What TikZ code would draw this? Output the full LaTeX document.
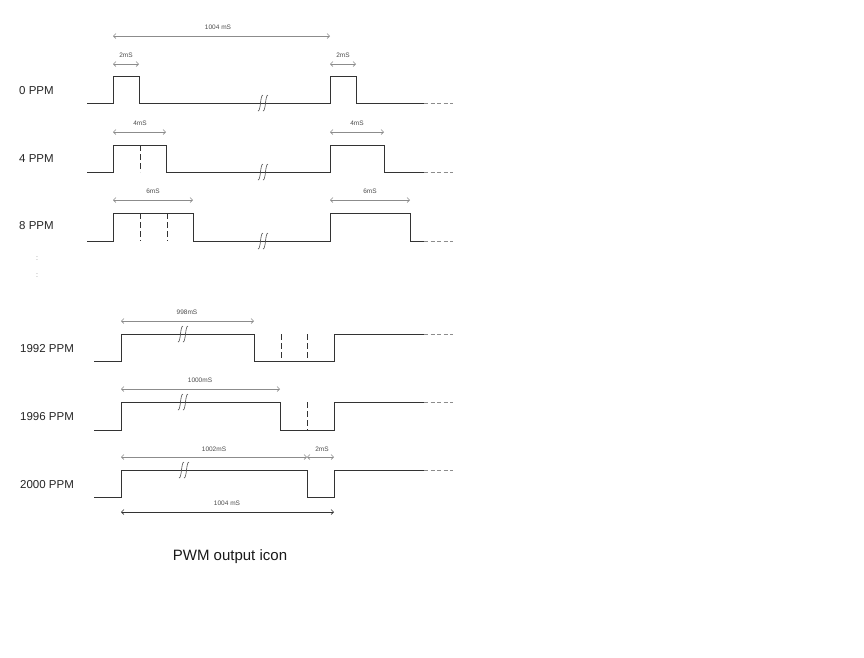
\documentclass[tikz,border=0pt]{standalone}
\usepackage{fontspec}
\setmainfont{Liberation Sans}
\usetikzlibrary{arrows.meta}
\newcommand\brksym[2]{%
  \draw[brkst] (#1-5,#2+8) .. controls (#1-2,#2+8) and (#1-3,#2-8) .. (#1,#2-8);
  \draw[brkst] (#1,#2+8) .. controls (#1+3,#2+8) and (#1+2,#2-8) .. (#1+5,#2-8);}
\begin{document}
\begin{tikzpicture}[x=1pt,y=-1pt,
  wave/.style={draw=black!80, line width=0.9pt, line join=miter},
  tail/.style={draw=black!45, line width=0.9pt, dash pattern=on 4pt off 2.5pt},
  dim/.style={draw=black!45, line width=0.6pt, {Straight Barb[length=2.5pt,width=5pt]}-{Straight Barb[length=2.5pt,width=5pt]}},
  dimdark/.style={dim, draw=black!80},
  dimlbl/.style={font=\fontsize{6.5}{7}\selectfont, text=black!70, inner sep=0.5pt},
  rowlbl/.style={font=\fontsize{11.5}{13}\selectfont, text=black!85, anchor=west, inner sep=0pt},
  mid/.style={draw=black!80, line width=0.8pt, dash pattern=on 6pt off 3pt},
  brkst/.style={draw=black!70, line width=0.6pt},
  dotlbl/.style={font=\fontsize{7}{8}\selectfont, text=black!50, inner sep=0pt}]
\useasboundingbox (0,0) rectangle (864,657);
\fill[white] (0,0) rectangle (864,657);

% ---------- row labels
\node[rowlbl] (l0) at (19,91) {0 PPM};
\node[rowlbl] (l4) at (19,159) {4 PPM};
\node[rowlbl] (l8) at (19,226) {8 PPM};
\node[dotlbl] (d1) at (37,259) {:};
\node[dotlbl] (d2) at (37,276) {:};
\node[rowlbl] (l1992) at (20,349) {1992 PPM};
\node[rowlbl] (l1996) at (20,417) {1996 PPM};
\node[rowlbl] (l2000) at (20,485) {2000 PPM};

% ---------- 0 PPM
\draw[wave] (87,103) -- (113,103) -- (113,76) -- (139,76) -- (139,103) -- (330,103) -- (330,76) -- (356,76) -- (356,103) -- (424,103);
\draw[tail] (424,103) -- (453,103);
\brksym{263}{103}
\coordinate (a1) at (113,36); \coordinate (a2) at (330,36);
\draw[dim] (a1) -- (a2);
\node[dimlbl] (t1004) at (218,27) {1004 mS};
\coordinate (b1) at (113,64); \coordinate (b2) at (139,64);
\draw[dim] (b1) -- (b2);
\node[dimlbl] (t2a) at (126,55) {2mS};
\coordinate (c1) at (330,64); \coordinate (c2) at (356,64);
\draw[dim] (c1) -- (c2);
\node[dimlbl] (t2b) at (343,55) {2mS};

% ---------- 4 PPM
\draw[wave] (87,172) -- (113,172) -- (113,145) -- (166,145) -- (166,172) -- (330,172) -- (330,145) -- (384,145) -- (384,172) -- (424,172);
\draw[tail] (424,172) -- (453,172);
\draw[mid] (140,145) -- (140,172);
\brksym{263}{172}
\coordinate (e1) at (113,132); \coordinate (e2) at (166,132);
\draw[dim] (e1) -- (e2);
\node[dimlbl] (t4a) at (140,123) {4mS};
\coordinate (f1) at (330,132); \coordinate (f2) at (384,132);
\draw[dim] (f1) -- (f2);
\node[dimlbl] (t4b) at (357,123) {4mS};

% ---------- 8 PPM
\draw[wave] (87,241) -- (113,241) -- (113,213) -- (193,213) -- (193,241) -- (330,241) -- (330,213) -- (410,213) -- (410,241) -- (424,241);
\draw[tail] (424,241) -- (453,241);
\draw[mid] (140,213) -- (140,241);
\draw[mid] (167,213) -- (167,241);
\brksym{263}{241}
\coordinate (g1) at (113,200); \coordinate (g2) at (193,200);
\draw[dim] (g1) -- (g2);
\node[dimlbl] (t6a) at (153,191) {6mS};
\coordinate (h1) at (330,200); \coordinate (h2) at (410,200);
\draw[dim] (h1) -- (h2);
\node[dimlbl] (t6b) at (370,191) {6mS};

% ---------- 1992 PPM
\draw[wave] (94,361) -- (121,361) -- (121,334) -- (254,334) -- (254,361) -- (334,361) -- (334,334) -- (424,334);
\draw[tail] (424,334) -- (453,334);
\draw[mid] (281,334) -- (281,361);
\draw[mid] (307,334) -- (307,361);
\brksym{183}{334}
\coordinate (i1) at (121,321); \coordinate (i2) at (254,321);
\draw[dim] (i1) -- (i2);
\node[dimlbl] (t998) at (187,312) {998mS};

% ---------- 1996 PPM
\draw[wave] (94,430) -- (121,430) -- (121,402) -- (280,402) -- (280,430) -- (334,430) -- (334,402) -- (424,402);
\draw[tail] (424,402) -- (453,402);
\draw[mid] (307,402) -- (307,430);
\brksym{183}{402}
\coordinate (j1) at (121,389); \coordinate (j2) at (280,389);
\draw[dim] (j1) -- (j2);
\node[dimlbl] (t1000) at (200,380) {1000mS};

% ---------- 2000 PPM
\draw[wave] (94,497) -- (121,497) -- (121,470) -- (307,470) -- (307,497) -- (334,497) -- (334,470) -- (424,470);
\draw[tail] (424,470) -- (453,470);
\brksym{184}{470}
\coordinate (k1) at (121,457); \coordinate (k2) at (307,457); \coordinate (k3) at (334,457);
\draw[dim] (k1) -- (k2);
\draw[dim] (k2) -- (k3);
\node[dimlbl] (t1002) at (214,449) {1002mS};
\node[dimlbl] (t2c) at (322,449) {2mS};
\coordinate (m1) at (121,512); \coordinate (m2) at (334,512);
\draw[dimdark] (m1) -- (m2);
\node[dimlbl] (t1004b) at (227,503) {1004 mS};

% ---------- caption
\node[font=\fontsize{15}{17}\selectfont, text=black!90, inner sep=0pt] (cap) at (230,557) {PWM output icon};
\end{tikzpicture}
\end{document}
